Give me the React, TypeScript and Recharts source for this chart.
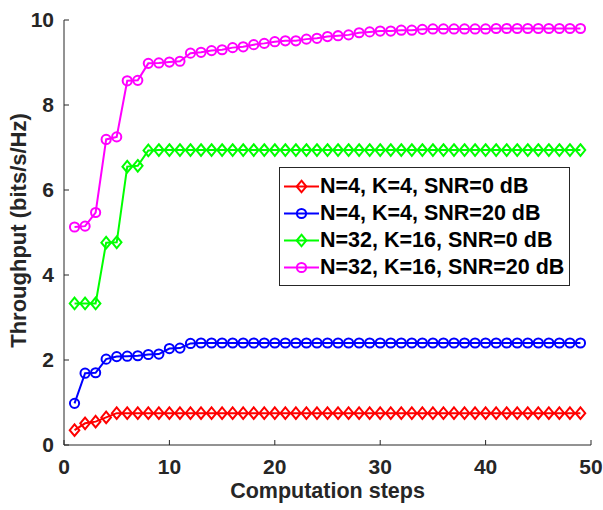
import { LineChart, Line, XAxis, YAxis, Legend } from "recharts";

const steps = [
  1, 2, 3, 4, 5, 6, 7, 8, 9, 10, 11, 12, 13, 14, 15, 16, 17, 18, 19, 20, 21, 22, 23, 24, 25,
  26, 27, 28, 29, 30, 31, 32, 33, 34, 35, 36, 37, 38, 39, 40, 41, 42, 43, 44, 45, 46, 47, 48, 49,
];

const n4Snr0 = [
  0.35, 0.51, 0.55, 0.65, 0.75, 0.75, 0.75, 0.75, 0.75, 0.75, 0.75, 0.75, 0.75, 0.75, 0.75, 0.75,
  0.75, 0.75, 0.75, 0.75, 0.75, 0.75, 0.75, 0.75, 0.75, 0.75, 0.75, 0.75, 0.75, 0.75, 0.75, 0.75,
  0.75, 0.75, 0.75, 0.75, 0.75, 0.75, 0.75, 0.75, 0.75, 0.75, 0.75, 0.75, 0.75, 0.75, 0.75, 0.75,
  0.75,
];

const n4Snr20 = [
  0.98, 1.69, 1.7, 2.02, 2.08, 2.09, 2.1, 2.13, 2.14, 2.27, 2.28, 2.39, 2.4, 2.4, 2.4, 2.4, 2.4,
  2.4, 2.4, 2.4, 2.4, 2.4, 2.4, 2.4, 2.4, 2.4, 2.4, 2.4, 2.4, 2.4, 2.4, 2.4, 2.4, 2.4, 2.4, 2.4,
  2.4, 2.4, 2.4, 2.4, 2.4, 2.4, 2.4, 2.4, 2.4, 2.4, 2.4, 2.4, 2.4,
];

const n32Snr0 = [
  3.33, 3.33, 3.33, 4.76, 4.77, 6.55, 6.57, 6.93, 6.94, 6.94, 6.94, 6.94, 6.94, 6.94, 6.94, 6.94,
  6.94, 6.94, 6.94, 6.94, 6.94, 6.94, 6.94, 6.94, 6.94, 6.94, 6.94, 6.94, 6.94, 6.94, 6.94, 6.94,
  6.94, 6.94, 6.94, 6.94, 6.94, 6.94, 6.94, 6.94, 6.94, 6.94, 6.94, 6.94, 6.94, 6.94, 6.94, 6.94,
  6.94,
];

const n32Snr20 = [
  5.13, 5.15, 5.47, 7.19, 7.25, 8.57, 8.58, 8.98, 8.99, 9.01, 9.03, 9.22, 9.24, 9.28, 9.3, 9.35,
  9.37, 9.42, 9.45, 9.49, 9.51, 9.51, 9.55, 9.57, 9.61, 9.63, 9.65, 9.7, 9.72, 9.74, 9.74, 9.76,
  9.76, 9.78, 9.79, 9.79, 9.79, 9.79, 9.79, 9.79, 9.8, 9.8, 9.8, 9.8, 9.8, 9.8, 9.8, 9.8, 9.8,
];

const xTicks = [0, 10, 20, 30, 40, 50];
const yTicks = [0, 2, 4, 6, 8, 10];

const seriesList = [
  { key: "a", name: "N=4, K=4, SNR=0 dB", color: "#FF0000", shape: "diamond", values: n4Snr0 },
  { key: "b", name: "N=4, K=4, SNR=20 dB", color: "#0000FF", shape: "circle", values: n4Snr20 },
  { key: "c", name: "N=32, K=16, SNR=0 dB", color: "#00FF00", shape: "diamond", values: n32Snr0 },
  { key: "d", name: "N=32, K=16, SNR=20 dB", color: "#FF00FF", shape: "circle", values: n32Snr20 },
];

const data = steps.map((s, i) => {
  const row: Record<string, number> = { step: s };
  seriesList.forEach((sr) => (row[sr.key] = sr.values[i]));
  return row;
});

const FONT = "'Liberation Sans', Arial, Helvetica, sans-serif";
const AXIS = "#262626";

function Marker({ shape, color, x, y }: { shape: string; color: string; x: number; y: number }) {
  if (shape === "circle") {
    return <circle cx={x} cy={y} r={4.6} fill="none" stroke={color} strokeWidth={2} />;
  }
  const hw = 4.8;
  const hh = 5.8;
  return (
    <path
      d={`M${x},${y - hh}L${x + hw},${y}L${x},${y + hh}L${x - hw},${y}Z`}
      fill="none"
      stroke={color}
      strokeWidth={2}
    />
  );
}

function dotFor(shape: string, color: string, key: string) {
  return (props: any) => {
    const { cx, cy, index } = props;
    if (cx == null || cy == null) return <g key={`${key}-${index}`} />;
    return (
      <g key={`${key}-${index}`}>
        <Marker shape={shape} color={color} x={cx} y={cy} />
      </g>
    );
  };
}

// legend keeps the plotting order, like the matlab one
function LegendBox() {
  return (
    <div
      style={{
        width: 291,
        height: 119,
        border: `1px solid ${AXIS}`,
        background: "#fff",
        paddingTop: 5,
        boxSizing: "border-box",
        fontFamily: FONT,
        fontWeight: "bold",
        fontSize: 21.5,
        color: "#000",
      }}
    >
      {seriesList.map((sr) => (
        <div key={sr.key} style={{ display: "flex", alignItems: "center", height: 27 }}>
          <svg width={40} height={27} style={{ flex: "none" }}>
            <line x1={4} y1={13.5} x2={39} y2={13.5} stroke={sr.color} strokeWidth={2} />
            <Marker shape={sr.shape} color={sr.color} x={21.5} y={13.5} />
          </svg>
          <span style={{ whiteSpace: "nowrap", lineHeight: "27px" }}>{sr.name}</span>
        </div>
      ))}
    </div>
  );
}

const tickStyle = { fill: AXIS, fontSize: 21, fontWeight: "bold", fontFamily: FONT };

export default function App() {
  return (
    <div style={{ position: "absolute", left: 0, top: 0, background: "#fff" }}>
      <LineChart
        width={603}
        height={510}
        data={data}
        margin={{ top: 20, right: 12, left: 0, bottom: 0 }}
      >
        <XAxis
          dataKey="step"
          type="number"
          domain={[0, 50]}
          ticks={xTicks}
          height={65}
          stroke={AXIS}
          tickSize={-5}
          tickMargin={19}
          tick={tickStyle}
          label={{
            value: "Computation steps",
            position: "insideBottom",
            offset: 12,
            style: { fill: AXIS, fontSize: 21.5, fontWeight: "bold", fontFamily: FONT },
          }}
        />
        <XAxis
          xAxisId="top"
          orientation="top"
          dataKey="step"
          type="number"
          domain={[0, 50]}
          ticks={xTicks}
          height={0}
          stroke={AXIS}
          tickSize={-5}
          tick={false}
        />
        <YAxis
          type="number"
          domain={[0, 10]}
          ticks={yTicks}
          width={64}
          stroke={AXIS}
          tickSize={-5}
          tickMargin={15}
          tick={tickStyle}
          label={{
            value: "Throughput (bits/s/Hz)",
            angle: -90,
            position: "center",
            dx: -14,
            dy: -2,
            style: { fill: AXIS, fontSize: 22, fontWeight: "bold", fontFamily: FONT, textAnchor: "middle" },
          }}
        />
        <YAxis
          yAxisId="right"
          orientation="right"
          type="number"
          domain={[0, 10]}
          ticks={yTicks}
          width={0}
          stroke={AXIS}
          tickSize={-5}
          tick={false}
        />
        <Legend
          layout="horizontal"
          verticalAlign="middle"
          align="center"
          content={LegendBox}
          wrapperStyle={{ position: "absolute", left: 279, top: 167, width: 291, height: 119 }}
        />
        {seriesList.map((sr) => (
          <Line
            key={sr.key}
            dataKey={sr.key}
            name={sr.name}
            type="linear"
            stroke={sr.color}
            strokeWidth={2}
            dot={dotFor(sr.shape, sr.color, sr.key)}
            activeDot={false}
            isAnimationActive={false}
          />
        ))}
      </LineChart>
    </div>
  );
}
